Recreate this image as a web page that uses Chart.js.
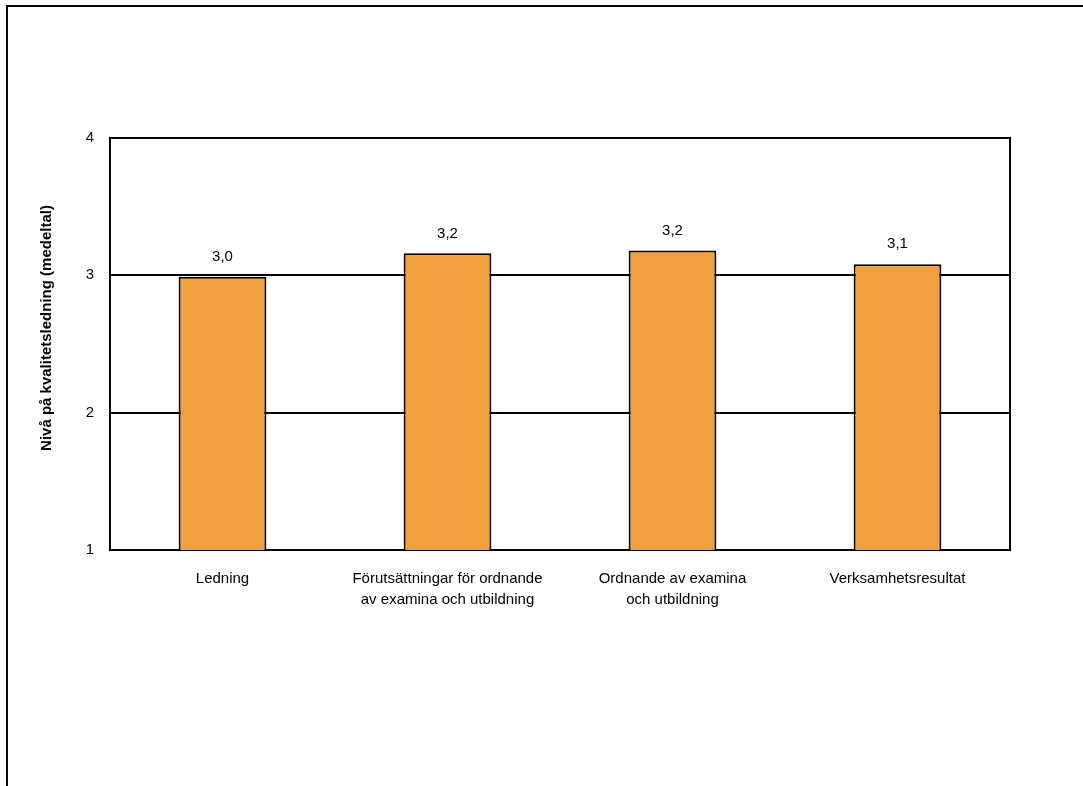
<!DOCTYPE html>
<html>
<head>
<meta charset="utf-8">
<script src="https://cdn.jsdelivr.net/npm/chart.js@4"></script>
<style>
  body { margin: 0; background: #fff; overflow: hidden; }
  #ram { position: absolute; left: 6px; top: 5px; width: 1200px; height: 900px; border: 2px solid #000; }
  #wrap { position: absolute; left: 0; top: 0; width: 1083px; height: 786px; }
</style>
</head>
<body>
<div id="ram"></div>
<div id="wrap"><canvas id="graf"></canvas></div>
<script>
var kategorier = [
    "Ledning",
    ["Förutsättningar för ordnande", "av examina och utbildning"],
    ["Ordnande av examina", "och utbildning"],
    "Verksamhetsresultat"
];
var medeltal = [2.99, 3.16, 3.18, 3.08];
var skalSteg = [1, 2, 3, 4];
var axelTitel = "Nivå på kvalitetsledning (medeltal)";

var typsnitt = "'Liberation Sans', Arial, sans-serif";

// etiketter ovanför staplarna, med decimalkomma
var stapelEtiketter = {
    id: 'stapelEtiketter',
    afterDatasetsDraw: function(chart) {
        var ctx = chart.ctx;
        var meta = chart.getDatasetMeta(0);
        ctx.save();
        ctx.font = "15px " + typsnitt;
        ctx.fillStyle = "#000";
        ctx.textAlign = "center";
        ctx.textBaseline = "middle";
        meta.data.forEach(function(bar, i) {
            var txt = medeltal[i].toFixed(1).replace(".", ",");
            ctx.fillText(txt, bar.x, bar.y - 20);
        });
        ctx.restore();
    }
};

// ram runt ritytan + y-axelns titel (sitter lite ovanför mitten i originalet)
var ritram = {
    id: 'ritram',
    afterDraw: function(chart) {
        var a = chart.chartArea;
        var ctx = chart.ctx;
        ctx.save();
        ctx.strokeStyle = "#000";
        ctx.lineWidth = 2;
        ctx.beginPath();
        ctx.moveTo(a.left, a.top);
        ctx.lineTo(a.right, a.top);
        ctx.lineTo(a.right, a.bottom);
        ctx.stroke();

        ctx.translate(47, (a.top + a.bottom) / 2 - 16);
        ctx.rotate(-Math.PI / 2);
        ctx.font = "bold 15px " + typsnitt;
        ctx.fillStyle = "#000";
        ctx.textAlign = "center";
        ctx.textBaseline = "middle";
        ctx.fillText(axelTitel, 0, 0);
        ctx.restore();
    }
};

var ctx = document.getElementById('graf').getContext('2d');
var chart = new Chart(ctx, {
    type: 'bar',
    data: {
        labels: kategorier,
        datasets: [
            {
                label: "Medeltal",
                data: medeltal,
                backgroundColor: "#F0A03F",
                borderColor: "#000",
                borderWidth: 2,
                borderSkipped: 'bottom',
                barPercentage: 0.39,
                categoryPercentage: 1.0
            }
        ]
    },
    options: {
        responsive: true,
        maintainAspectRatio: false,
        animation: false,
        layout: { padding: { left: 30, top: 138, right: 73, bottom: 136 } },
        plugins: {
            legend: { display: false },
            tooltip: { enabled: false }
        },
        scales: {
            x: {
                grid: { display: false },
                border: { display: true, color: "#000", width: 2 },
                ticks: {
                    color: "#000",
                    font: { family: typsnitt, size: 15, lineHeight: 1.4 },
                    padding: 10,
                    maxRotation: 0,
                    autoSkip: false
                },
                afterFit: function(scale) { scale.height = 100; }
            },
            y: {
                min: 1,
                max: 4,
                afterBuildTicks: function(scale) {
                    scale.ticks = skalSteg.map(function(v) { return { value: v }; });
                },
                grid: { color: "#000", lineWidth: 2, drawTicks: false },
                border: { display: true, color: "#000", width: 2 },
                ticks: {
                    color: "#000",
                    font: { family: typsnitt, size: 15 },
                    padding: 16
                },
                afterFit: function(scale) { scale.width = 80; }
            }
        }
    },
    plugins: [stapelEtiketter, ritram]
});
</script>
</body>
</html>
